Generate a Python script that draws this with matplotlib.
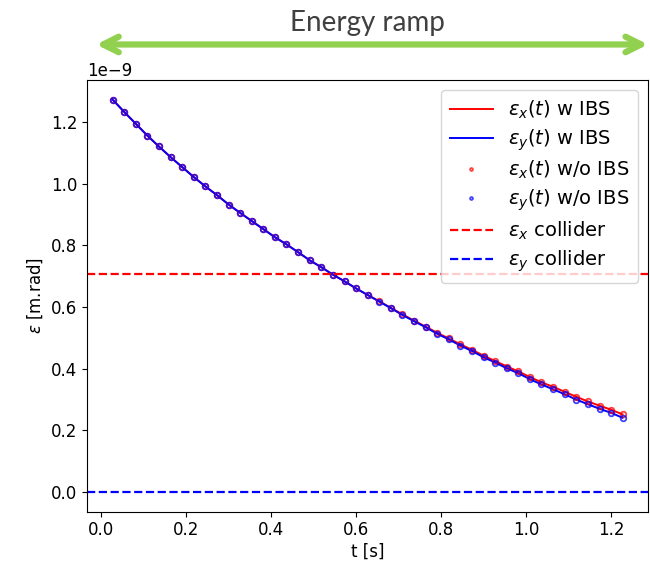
import numpy as np
import matplotlib
matplotlib.use('Agg')
import matplotlib.pyplot as plt

# time samples [s]
t = [0.027, 0.055, 0.082, 0.109, 0.136, 0.164, 0.191, 0.218, 0.245, 0.273,
     0.300, 0.327, 0.355, 0.382, 0.409, 0.436, 0.464, 0.491, 0.518, 0.545,
     0.573, 0.600, 0.627, 0.655, 0.682, 0.709, 0.736, 0.764, 0.791, 0.818,
     0.845, 0.873, 0.900, 0.927, 0.955, 0.982, 1.009, 1.036, 1.064, 1.091,
     1.118, 1.145, 1.173, 1.200, 1.227]

# emittances [1e-9 m.rad]
eps_y = [1.272, 1.231, 1.193, 1.155, 1.120, 1.085, 1.053, 1.021, 0.991, 0.962,
         0.932, 0.905, 0.878, 0.852, 0.826, 0.803, 0.777, 0.751, 0.729, 0.705,
         0.683, 0.660, 0.639, 0.617, 0.596, 0.574, 0.554, 0.534, 0.513, 0.495,
         0.475, 0.457, 0.437, 0.420, 0.401, 0.385, 0.366, 0.349, 0.333, 0.317,
         0.300, 0.285, 0.270, 0.257, 0.241]
eps_x = [1.272, 1.231, 1.193, 1.155, 1.120, 1.085, 1.053, 1.021, 0.991, 0.962,
         0.932, 0.905, 0.878, 0.852, 0.826, 0.803, 0.777, 0.751, 0.729, 0.705,
         0.683, 0.660, 0.639, 0.618, 0.597, 0.576, 0.556, 0.536, 0.516, 0.498,
         0.479, 0.461, 0.442, 0.425, 0.407, 0.391, 0.373, 0.356, 0.341, 0.325,
         0.309, 0.294, 0.280, 0.267, 0.252]

eps_x_collider = 0.708
eps_y_collider = 0.0

t = np.array(t)
ex = np.array(eps_x) * 1e-9
ey = np.array(eps_y) * 1e-9

plt.rcParams['font.size'] = 12

fig = plt.figure(figsize=(6.5, 5.63), dpi=100)
ax = fig.add_axes([0.134, 0.091, 0.863, 0.767])

ax.plot(t, ex, color='red', lw=1.4, label=r'$\varepsilon_x(t)$ w IBS')
ax.plot(t, ey, color='blue', lw=1.4, label=r'$\varepsilon_y(t)$ w IBS')
ax.plot(t, ex, 'o', color='red', ms=4, mfc='none', mew=1.3, alpha=0.75,
        label=r'$\varepsilon_x(t)$ w/o IBS')
ax.plot(t, ey, 'o', color='blue', ms=4, mfc='none', mew=1.3, alpha=0.75,
        label=r'$\varepsilon_y(t)$ w/o IBS')
ax.axhline(eps_x_collider * 1e-9, color='red', ls='--', lw=1.6,
           label=r'$\varepsilon_x$ collider')
ax.axhline(eps_y_collider * 1e-9, color='blue', ls='--', lw=1.6,
           label=r'$\varepsilon_y$ collider')

ax.set_xlabel('t [s]', labelpad=2)
ax.set_ylabel(r'$\varepsilon$ [m.rad]')
ax.legend(loc='upper right', fontsize=14, markerscale=0.5, handlelength=2.2,
          borderaxespad=0.5, labelspacing=0.33, borderpad=0.45)

# annotation above the plot
fig.text(0.565, 0.96, 'Energy ramp', ha='center', va='center',
         fontsize=20, family='Lato', color='#404040')
ax.annotate('', xy=(0.148, 0.921), xytext=(0.997, 0.921),
            xycoords='figure fraction', textcoords='figure fraction',
            arrowprops=dict(arrowstyle='<->', color='#92D050', lw=4.5,
                            mutation_scale=28, shrinkA=0, shrinkB=0),
            annotation_clip=False)

fig.savefig('out.png', dpi=100)
